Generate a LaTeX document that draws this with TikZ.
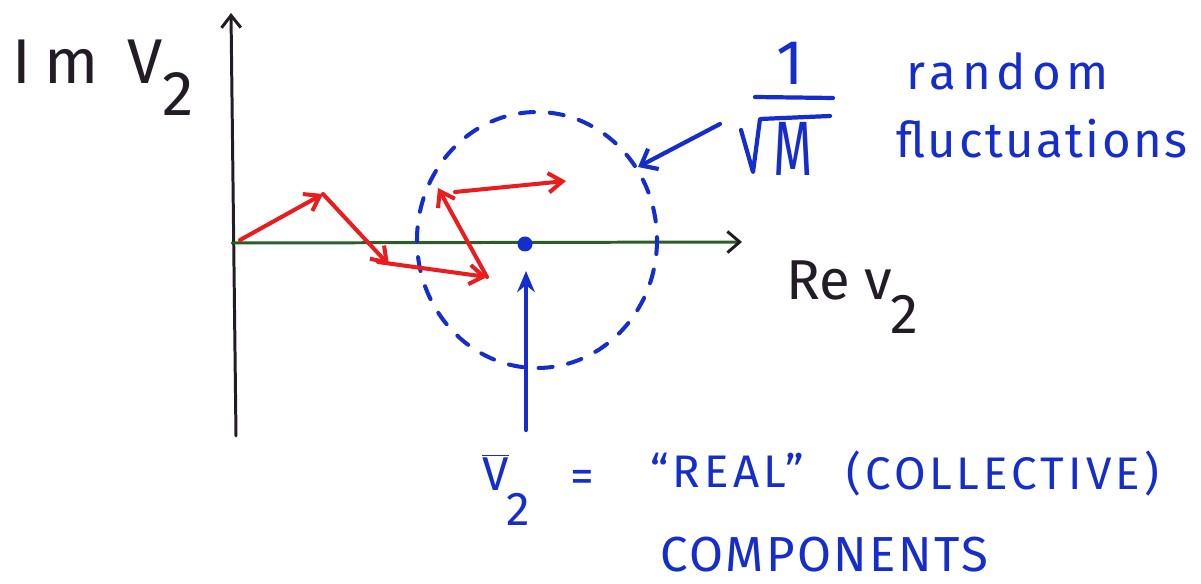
\documentclass[tikz,border=0pt]{standalone}
\usepackage{fontspec}
\setmainfont{Fira Sans}
\usetikzlibrary{arrows.meta}
\definecolor{pen}{RGB}{22,45,205}
\definecolor{redpen}{RGB}{235,28,30}
\definecolor{ink}{RGB}{35,28,38}
\definecolor{axisgreen}{RGB}{40,95,35}
\begin{document}
\begin{tikzpicture}[x=0.02cm,y=-0.02cm,
  axisline/.style={line width=1.7pt, line cap=round},
  vecline/.style={redpen, line width=2.3pt, line cap=round, -{Straight Barb[length=8pt,width=11pt]}},
  bluearrow/.style={pen, line width=2.4pt, line cap=round},
  penstroke/.style={pen, line width=2.4pt, line cap=round, line join=round},
  blacklabel/.style={ink, inner sep=0pt},
  bluelabel/.style={pen, inner sep=0pt}]
\useasboundingbox (0,0) rectangle (1201,584);

% axes
\coordinate (ybot) at (236,436);
\coordinate (ytop) at (231,13);
\coordinate (xleft) at (232,243);
\coordinate (xright) at (742,242);
\draw[axisline, ink, -{Straight Barb[length=7pt,width=11pt]}] (ybot) -- (ytop);
\draw[axisline, axisgreen, -{Straight Barb[length=7pt,width=12pt,color=ink]}] (xleft) -- (xright);

% axis labels
\node[blacklabel, anchor=base west, font=\fontsize{36}{40}\selectfont] (imlabel) at (12,84)
  {I\kern0.22em m\hspace{0.45em}V\raisebox{-0.5em}{2}};
\node[blacklabel, anchor=base west, font=\fontsize{32}{36}\selectfont] (relabel) at (786,300)
  {Re\hspace{0.25em}v\kern-0.02em\raisebox{-0.6em}{2}};

% dashed circle
\draw[pen, line width=2.3pt, dash pattern=on 8pt off 9pt, line cap=round]
  (537,240) ellipse [x radius=120, y radius=128];

% mean point
\coordinate (mean) at (525,244);
\fill[pen] (mean) circle [radius=7.5];

% red random walk
\coordinate (p0) at (240,240);
\coordinate (p1) at (323,194);
\coordinate (p2) at (389,265);
\coordinate (p3) at (487,277);
\coordinate (p4) at (438,188);
\coordinate (p4b) at (455,192);
\coordinate (p5) at (566,181);
\coordinate (p2b) at (378,262);
\draw[vecline] (p0) -- (p1);
\draw[vecline] (p1) -- (p2);
\draw[vecline] (p2b) -- (p3);
\draw[vecline] (p3) -- (p4);
\draw[vecline] (p4b) -- (p5);

% 1/sqrt(M) label and arrow
\node[bluelabel, anchor=base, font=\fontsize{36}{40}\selectfont] (num) at (790,85) {1};
\draw[penstroke] (755,97) -- (833,98);
\draw[penstroke] (741,130) -- (753,172) -- (760,119) -- (830,116);
\node[bluelabel, anchor=base, font=\fontsize{36}{40}\selectfont] (den) at (793,176)
  {\scalebox{0.8}[1.22]{M}};
\coordinate (fracarrowstart) at (720,124);
\coordinate (circlehit) at (638,167);
\draw[bluearrow, -{Straight Barb[length=8pt,width=13pt]}] (fracarrowstart) -- (circlehit);

\node[bluelabel, anchor=base west, font=\fontsize{28}{32}\selectfont\addfontfeature{LetterSpace=12}] (random) at (906,90) {random};
\node[bluelabel, anchor=base west, font=\fontsize{28}{32}\selectfont\addfontfeature{LetterSpace=5}] (fluct) at (896,158) {fluctuations};

% bottom label and arrow
\node[bluelabel, anchor=base west, font=\fontsize{27}{30}\selectfont] (vbar) at (482,490)
  {\(\overline{\mathrm{V}}\)\kern-0.05em\raisebox{-0.75em}{2}};
\coordinate (vbararrow) at (526,430);
\coordinate (meanbelow) at (526,271);
\draw[bluearrow, -{Stealth[length=12pt,width=10pt]}] (vbararrow) -- (meanbelow);

\node[bluelabel, anchor=base west, font=\fontsize{27}{30}\selectfont] (eq) at (570,492) {=};
\node[bluelabel, anchor=base west, font=\fontsize{26}{30}\selectfont\addfontfeature{LetterSpace=9}] (real) at (650,487) {``REAL''};
\node[bluelabel, anchor=base west, font=\fontsize{26}{30}\selectfont\addfontfeature{LetterSpace=9}] (coll) at (846,489) {(COLLECTIVE)};
\node[bluelabel, anchor=base west, font=\fontsize{28}{30}\selectfont\addfontfeature{LetterSpace=5}] (comp) at (660,571) {COMPONENTS};
\end{tikzpicture}
\end{document}
